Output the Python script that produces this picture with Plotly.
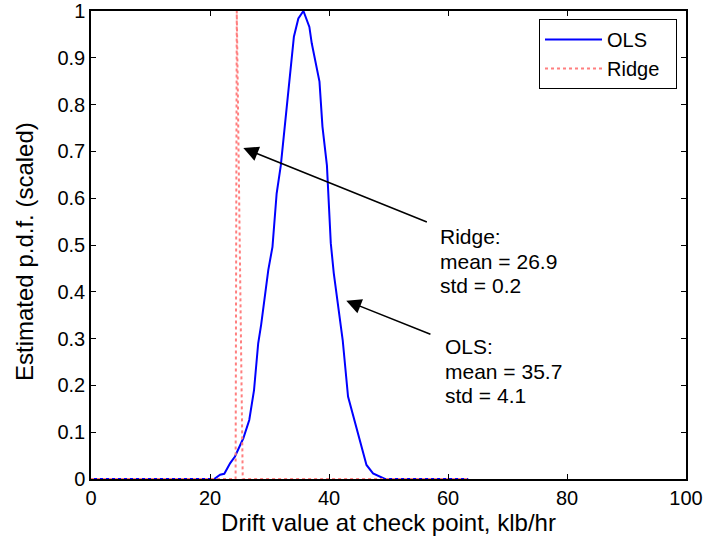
import plotly.graph_objects as go

# OLS estimated (scaled) p.d.f.
ols_x = [0, 20.7, 21.7, 22.4, 23.4, 24.2, 25.6, 26.6, 27.4, 28.1, 28.6, 29.2, 29.8, 30.5,
         31.2, 31.9, 32.6, 33.2, 33.7, 34.1, 34.85, 35.7, 36.7, 37.1, 38.4, 38.9, 39.65,
         39.9, 40.3, 40.8, 41.4, 41.9, 42.3, 43.2, 44.4, 45.2, 46.3, 47.4, 48.9, 49.4, 63.4]
ols_y = [0, 0, 0.009, 0.011, 0.034, 0.048, 0.087, 0.126, 0.19, 0.29, 0.33, 0.39, 0.447, 0.496,
         0.61, 0.67, 0.753, 0.835, 0.895, 0.945, 0.984, 1.0, 0.966, 0.931, 0.849, 0.753, 0.67,
         0.61, 0.504, 0.44, 0.383, 0.335, 0.297, 0.176, 0.119, 0.08, 0.03, 0.012, 0.004, 0, 0]

# Ridge estimated (scaled) p.d.f.
ridge_x = [0, 24.3, 24.5, 25.5, 63.4]
ridge_y = [0, 0, 1.0, 0, 0]

x_ticks = [0, 20, 40, 60, 80, 100]
y_ticks = [0, 0.1, 0.2, 0.3, 0.4, 0.5, 0.6, 0.7, 0.8, 0.9, 1]
y_tick_labels = ["0", "0.1", "0.2", "0.3", "0.4", "0.5", "0.6", "0.7", "0.8", "0.9", "1"]

ridge_text = ["Ridge:", "mean = 26.9", "std = 0.2"]
ols_text = ["OLS:", "mean = 35.7", "std = 4.1"]

FONT = "Liberation Sans, Arial, sans-serif"

W, H = 706, 540
L, R, T, B = 91, 20, 11, 61
PW, PH = W - L - R, H - T - B


def px_to_x(px):
    return (px - L) / PW * 100


def py_to_y(py):
    return (H - B - py) / PH


fig = go.Figure()
fig.add_trace(go.Scatter(x=ols_x, y=ols_y, mode="lines", name="OLS",
                         line=dict(color="#0000FF", width=2)))
fig.add_trace(go.Scatter(x=ridge_x, y=ridge_y, mode="lines", name="Ridge\u00a0\u00a0",
                         line=dict(color="#FF7F7F", width=2, dash="dot")))

annotations = []
# arrows (tip at x,y; tail at ax,ay)
annotations.append(dict(x=25.6, y=0.707, ax=56.7, ay=0.548, xref="x", yref="y",
                        axref="x", ayref="y", text="", showarrow=True,
                        arrowhead=2, arrowsize=2, arrowwidth=1.5, arrowcolor="black"))
annotations.append(dict(x=42.9, y=0.381, ax=57.3, ay=0.308, xref="x", yref="y",
                        axref="x", ayref="y", text="", showarrow=True,
                        arrowhead=2, arrowsize=2, arrowwidth=1.5, arrowcolor="black"))
# text blocks
for i, t in enumerate(ridge_text):
    annotations.append(dict(x=px_to_x(438), y=py_to_y(236.7 + i * 24.3), xref="x", yref="y",
                            text=t, showarrow=False, xanchor="left", yanchor="middle",
                            font=dict(family=FONT, size=21, color="black")))
for i, t in enumerate(ols_text):
    annotations.append(dict(x=px_to_x(442.5), y=py_to_y(346.7 + i * 24.6), xref="x", yref="y",
                            text=t, showarrow=False, xanchor="left", yanchor="middle",
                            font=dict(family=FONT, size=21, color="black")))
# y-axis title
annotations.append(dict(x=(25 - L) / PW, y=py_to_y(252), xref="paper", yref="paper",
                        text="Estimated p.d.f. (scaled)", textangle=-90, showarrow=False,
                        xanchor="center", yanchor="middle",
                        font=dict(family=FONT, size=24, color="black")))

fig.update_layout(
    width=W, height=H,
    margin=dict(l=L, r=R, t=T, b=B, autoexpand=False),
    paper_bgcolor="white", plot_bgcolor="white",
    font=dict(family=FONT, size=20, color="black"),
    showlegend=True,
    legend=dict(x=(677 - L) / PW, y=py_to_y(19), xanchor="right", yanchor="top",
                bgcolor="white", bordercolor="black", borderwidth=1,
                font=dict(family=FONT, size=20, color="black"),
                itemwidth=57, tracegroupgap=0),
    annotations=annotations,
)
fig.update_xaxes(range=[0, 100], tickvals=x_ticks, ticks="inside", ticklen=5,
                 showline=True, linecolor="black", linewidth=1.5, mirror="ticks",
                 showgrid=False, zeroline=False, tickcolor="black", automargin=False,
                 ticklabeloverflow="allow",
                 title=dict(text="Drift value at check point, klb/hr",
                            font=dict(family=FONT, size=24), standoff=4),
                 tickfont=dict(family=FONT, size=20))
fig.update_yaxes(range=[0, 1], tickvals=y_ticks, ticktext=y_tick_labels, ticks="inside",
                 ticklen=5, showline=True, linecolor="black", linewidth=1.5, mirror="ticks",
                 showgrid=False, zeroline=False, tickcolor="black", automargin=False,
                 ticklabeloverflow="allow",
                 tickfont=dict(family=FONT, size=20))

fig.write_html("out.html", config={"displayModeBar": False},
               post_script="document.body.style.margin='0';")
